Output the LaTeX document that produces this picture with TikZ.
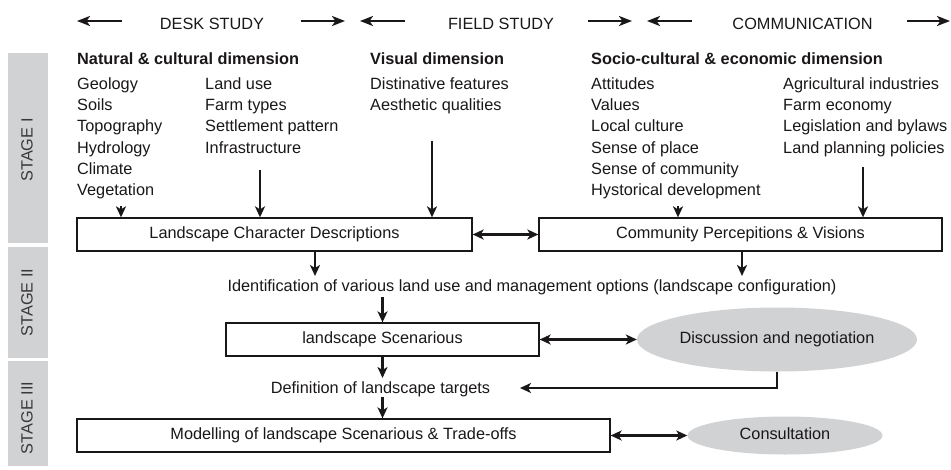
\documentclass[tikz,border=0pt]{standalone}
\usepackage{fontspec}
\setmainfont{Liberation Sans}
\usetikzlibrary{arrows.meta,shapes.geometric}
\definecolor{barg}{HTML}{D1D2D4}
\definecolor{ink}{HTML}{1A1718}
\definecolor{stg}{HTML}{3A3839}
\begin{document}
\begin{tikzpicture}[x=1pt,y=-1pt,
  txt/.style={inner sep=0pt, anchor=base west, font=\fontsize{16.3}{19}\selectfont, text=ink},
  hd/.style={txt, font=\fontsize{16.3}{19}\selectfont\bfseries},
  ctxt/.style={inner sep=0pt, anchor=base, font=\fontsize{16.3}{19}\selectfont, text=ink},
  box/.style={draw=ink, line width=1.3pt, inner sep=0pt, minimum height=33pt,
     text height=11.6pt, text depth=3.4pt, font=\fontsize{16.3}{19}\selectfont, text=ink},
  oval/.style={ellipse, fill=barg, draw=none, inner sep=0pt,
     text height=11.6pt, text depth=3.4pt, font=\fontsize{16.3}{19}\selectfont, text=ink},
  stagebar/.style={fill=barg, draw=none, inner sep=0pt, minimum width=40pt},
  stagetxt/.style={rotate=90, inner sep=0pt, font=\fontsize{16.3}{19}\selectfont, text=stg},
  arr/.style={draw=ink, line width=2.2pt, -{Stealth[length=11pt,width=10pt,inset=3pt]}},
  darr/.style={draw=ink, line width=2.2pt, {Stealth[length=11pt,width=10pt,inset=3pt]}-{Stealth[length=11pt,width=10pt,inset=3pt]}},
  harr/.style={draw=ink, line width=2.5pt, -{Stealth[length=13pt,width=10pt,inset=3.5pt]}}
]
\useasboundingbox (0,0) rectangle (951,469);

% stage bars
\node[stagebar, minimum height=190pt] (s1) at (28,148) {};
\node[stagebar, minimum height=111pt] (s2) at (28,302.5) {};
\node[stagebar, minimum height=105pt] (s3) at (28,413.5) {};
\node[stagetxt] (s1t) at (27,150) {STAGE I};
\node[stagetxt] (s2t) at (27,302.5) {STAGE II};
\node[stagetxt] (s3t) at (27,418) {STAGE III};

% header
\node[ctxt] (desk) at (212,29) {DESK STUDY};
\node[ctxt] (field) at (501,29) {FIELD STUDY};
\node[ctxt] (comm) at (802.5,29) {COMMUNICATION};
\coordinate (h1a) at (122,21); \coordinate (h1b) at (77,21);
\coordinate (h2a) at (301,21); \coordinate (h2b) at (345,21);
\coordinate (h3a) at (405,21); \coordinate (h3b) at (360,21);
\coordinate (h4a) at (588,21); \coordinate (h4b) at (632,21);
\coordinate (h5a) at (692,21); \coordinate (h5b) at (647,21);
\coordinate (h6a) at (907,21); \coordinate (h6b) at (950,21);
\draw[harr] (h1a) -- (h1b);
\draw[harr] (h2a) -- (h2b);
\draw[harr] (h3a) -- (h3b);
\draw[harr] (h4a) -- (h4b);
\draw[harr] (h5a) -- (h5b);
\draw[harr] (h6a) -- (h6b);

% headings
\node[hd] (hnat) at (77,64) {Natural \& cultural dimension};
\node[hd] (hvis) at (370,64) {Visual dimension};
\node[hd] (hsoc) at (591,64) {Socio-cultural \& economic dimension};

% lists
\foreach \t [count=\i from 0] in {Geology,Soils,Topography,Hydrology,Climate,Vegetation}
  \node[txt] (la\i) at (77,89.5+21.2*\i) {\t};
\foreach \t [count=\i from 0] in {Land use,Farm types,Settlement pattern,Infrastructure}
  \node[txt] (lb\i) at (205,89.5+21.2*\i) {\t};
\foreach \t [count=\i from 0] in {Distinative features,Aesthetic qualities}
  \node[txt] (lc\i) at (370,89.5+21.2*\i) {\t};
\foreach \t [count=\i from 0] in {Attitudes,Values,Local culture,Sense of place,Sense of community,Hystorical development}
  \node[txt] (ld\i) at (591,89.5+21.2*\i) {\t};
\foreach \t [count=\i from 0] in {Agricultural industries,Farm economy,Legislation and bylaws,Land planning policies}
  \node[txt] (le\i) at (783,89.5+21.2*\i) {\t};

% boxes
\node[box, minimum width=395pt] (lcd) at (274.5,234.5) {Landscape Character Descriptions};
\node[box, minimum width=403pt] (cpv) at (740.5,234.5) {Community Percepitions \& Visions};
\node[ctxt] (ident) at (532,291.5) {Identification of various land use and management options (landscape configuration)};
\node[box, minimum width=313pt] (scen) at (382.5,339.5) {landscape Scenarious};
\node[oval, minimum width=280pt, minimum height=64pt] (disc) at (777,339.5) {Discussion and negotiation};
\node[ctxt] (def) at (380.5,393.5) {Definition of landscape targets};
\node[box, minimum width=533pt] (mod) at (343.5,435.5) {Modelling of landscape Scenarious \& Trade-offs};
\node[oval, minimum width=195pt, minimum height=38pt] (cons) at (785,435.5) {Consultation};

% arrows into top boxes
\coordinate (v1) at (121,206);
\coordinate (v2) at (260,170);
\coordinate (v3) at (432,141);
\coordinate (v4) at (678,206);
\coordinate (v5) at (863,167);
\draw[arr] (v1) -- (v1 |- lcd.north);
\draw[arr] (v2) -- (v2 |- lcd.north);
\draw[arr] (v3) -- (v3 |- lcd.north);
\draw[arr] (v4) -- (v4 |- cpv.north);
\draw[arr] (v5) -- (v5 |- cpv.north);
\draw[darr] (lcd.east) -- (cpv.west);

% down to identification
\coordinate (i1) at (315,276);
\coordinate (i2) at (742,276);
\draw[arr] (i1 |- lcd.south) -- (i1);
\draw[arr] (i2 |- cpv.south) -- (i2);
\coordinate (i3) at (382.5,297);
\draw[arr] (i3) -- (scen.north);
\draw[darr] (scen.east) -- (disc.west);

% to definition
\coordinate (d1) at (382.5,378);
\draw[arr] (scen.south) -- (d1);
\coordinate (d2) at (382.5,397);
\draw[arr] (d2) -- (mod.north -| d2);
\coordinate (d3) at (520,388);
\draw[arr] (disc.south) |- (d3);
\draw[darr] (mod.east) -- (cons.west);
\end{tikzpicture}
\end{document}
